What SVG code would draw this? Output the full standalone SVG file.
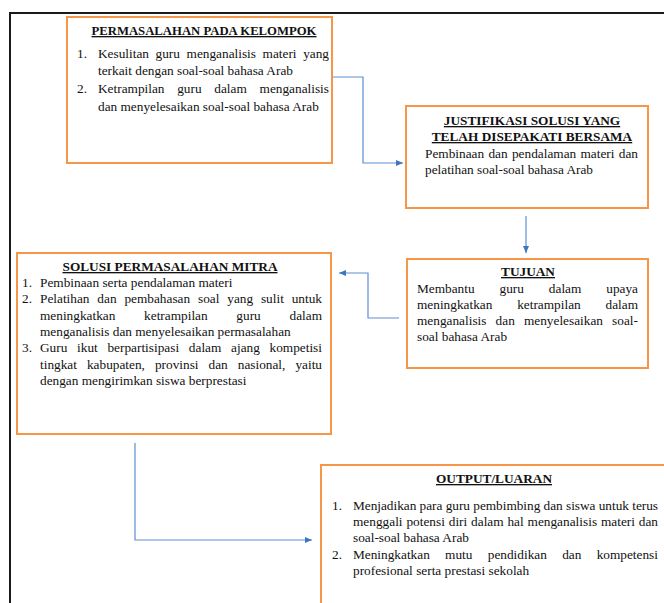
<svg xmlns="http://www.w3.org/2000/svg" width="664" height="603" viewBox="0 0 664 603">
<style>
.box{fill:#fff;stroke:#F79646;stroke-width:2}
.t{font-family:"Liberation Serif","Times New Roman",serif;font-size:13.3px;fill:#111}
.h{font-family:"Liberation Serif","Times New Roman",serif;font-size:13.3px;font-weight:bold;fill:#111;text-anchor:middle;text-decoration:underline}
.c{fill:none;stroke:#5B8FD0;stroke-width:1.2}
</style>
<defs>
<marker id="ah" markerUnits="userSpaceOnUse" markerWidth="8" markerHeight="8" refX="7" refY="4" orient="auto">
<path d="M0,1 L7,4 L0,7 z" fill="#3E75C0"/>
</marker>
</defs>
<rect x="0" y="0" width="664" height="603" fill="#fff"/>
<path d="M10,603 V13 H664" fill="none" stroke="#1a1a1a" stroke-width="2"/>

<g id="connectors">
<path class="c" d="M332,77 H363 V163 H403" marker-end="url(#ah)"/>
<path class="c" d="M526,216 V253" marker-end="url(#ah)"/>
<path class="c" d="M399,318 H368 V273 H339" marker-end="url(#ah)"/>
<path class="c" d="M135,443 V540 H312" marker-end="url(#ah)"/>
</g>

<g id="permasalahan">
<rect class="box" x="67" y="17" width="265" height="146"/>
<text class="h" x="204" y="35" textLength="225" lengthAdjust="spacingAndGlyphs">PERMASALAHAN PADA KELOMPOK</text>
<text class="t" x="77" y="57.5">1.</text>
<text class="t" x="98" y="57.5" word-spacing="3.3" textLength="231" lengthAdjust="spacing">Kesulitan guru menganalisis materi yang</text>
<text class="t" x="98" y="75">terkait dengan soal-soal bahasa Arab</text>
<text class="t" x="77" y="93">2.</text>
<text class="t" x="98" y="93" word-spacing="9.4" textLength="231" lengthAdjust="spacing">Ketrampilan guru dalam menganalisis</text>
<text class="t" x="98" y="110.5">dan menyelesaikan soal-soal bahasa Arab</text>
</g>

<g id="justifikasi">
<rect class="box" x="406" y="106" width="242" height="102"/>
<text class="h" x="532" y="125">JUSTIFIKASI SOLUSI YANG</text>
<text class="h" x="532" y="141">TELAH DISEPAKATI BERSAMA</text>
<text class="t" x="425" y="158" word-spacing="1" textLength="213" lengthAdjust="spacing">Pembinaan dan pendalaman materi dan</text>
<text class="t" x="425" y="174">pelatihan soal-soal bahasa Arab</text>
</g>

<g id="tujuan">
<rect class="box" x="407" y="259" width="241" height="109"/>
<text class="h" x="528" y="276">TUJUAN</text>
<text class="t" x="417" y="293" word-spacing="21.6" textLength="221" lengthAdjust="spacing">Membantu guru dalam upaya</text>
<text class="t" x="417" y="309" word-spacing="21.5" textLength="221" lengthAdjust="spacing">meningkatkan ketrampilan dalam</text>
<text class="t" x="417" y="325" word-spacing="5.8" textLength="221" lengthAdjust="spacing">menganalisis dan menyelesaikan soal-</text>
<text class="t" x="417" y="341">soal bahasa Arab</text>
</g>

<g id="solusi">
<rect class="box" x="17" y="253" width="314" height="181"/>
<text class="h" x="170" y="271">SOLUSI PERMASALAHAN MITRA</text>
<text class="t" x="22" y="287">1.</text>
<text class="t" x="40" y="287">Pembinaan serta pendalaman materi</text>
<text class="t" x="22" y="303">2.</text>
<text class="t" x="40" y="303" word-spacing="4.5" textLength="282" lengthAdjust="spacing">Pelatihan dan pembahasan soal yang sulit untuk</text>
<text class="t" x="40" y="319.5" word-spacing="25.4" textLength="282" lengthAdjust="spacing">meningkatkan ketrampilan guru dalam</text>
<text class="t" x="40" y="336">menganalisis dan menyelesaikan permasalahan</text>
<text class="t" x="22" y="352">3.</text>
<text class="t" x="40" y="352" word-spacing="6.4" textLength="282" lengthAdjust="spacing">Guru ikut berpartisipasi dalam ajang kompetisi</text>
<text class="t" x="40" y="368.5" word-spacing="6.7" textLength="282" lengthAdjust="spacing">tingkat kabupaten, provinsi dan nasional, yaitu</text>
<text class="t" x="40" y="385">dengan mengirimkan siswa berprestasi</text>
</g>

<g id="output">
<rect class="box" x="321" y="465" width="360" height="160"/>
<text class="h" x="494" y="483">OUTPUT/LUARAN</text>
<text class="t" x="332" y="510">1.</text>
<text class="t" x="353" y="510" textLength="305" lengthAdjust="spacing">Menjadikan para guru pembimbing dan siswa untuk terus</text>
<text class="t" x="353" y="526" word-spacing="0.5" textLength="305" lengthAdjust="spacing">menggali potensi diri dalam hal menganalisis materi dan</text>
<text class="t" x="353" y="542">soal-soal bahasa Arab</text>
<text class="t" x="332" y="559">2.</text>
<text class="t" x="353" y="559" word-spacing="12" textLength="305" lengthAdjust="spacing">Meningkatkan mutu pendidikan dan kompetensi</text>
<text class="t" x="353" y="575">profesional serta prestasi sekolah</text>
</g>
</svg>
